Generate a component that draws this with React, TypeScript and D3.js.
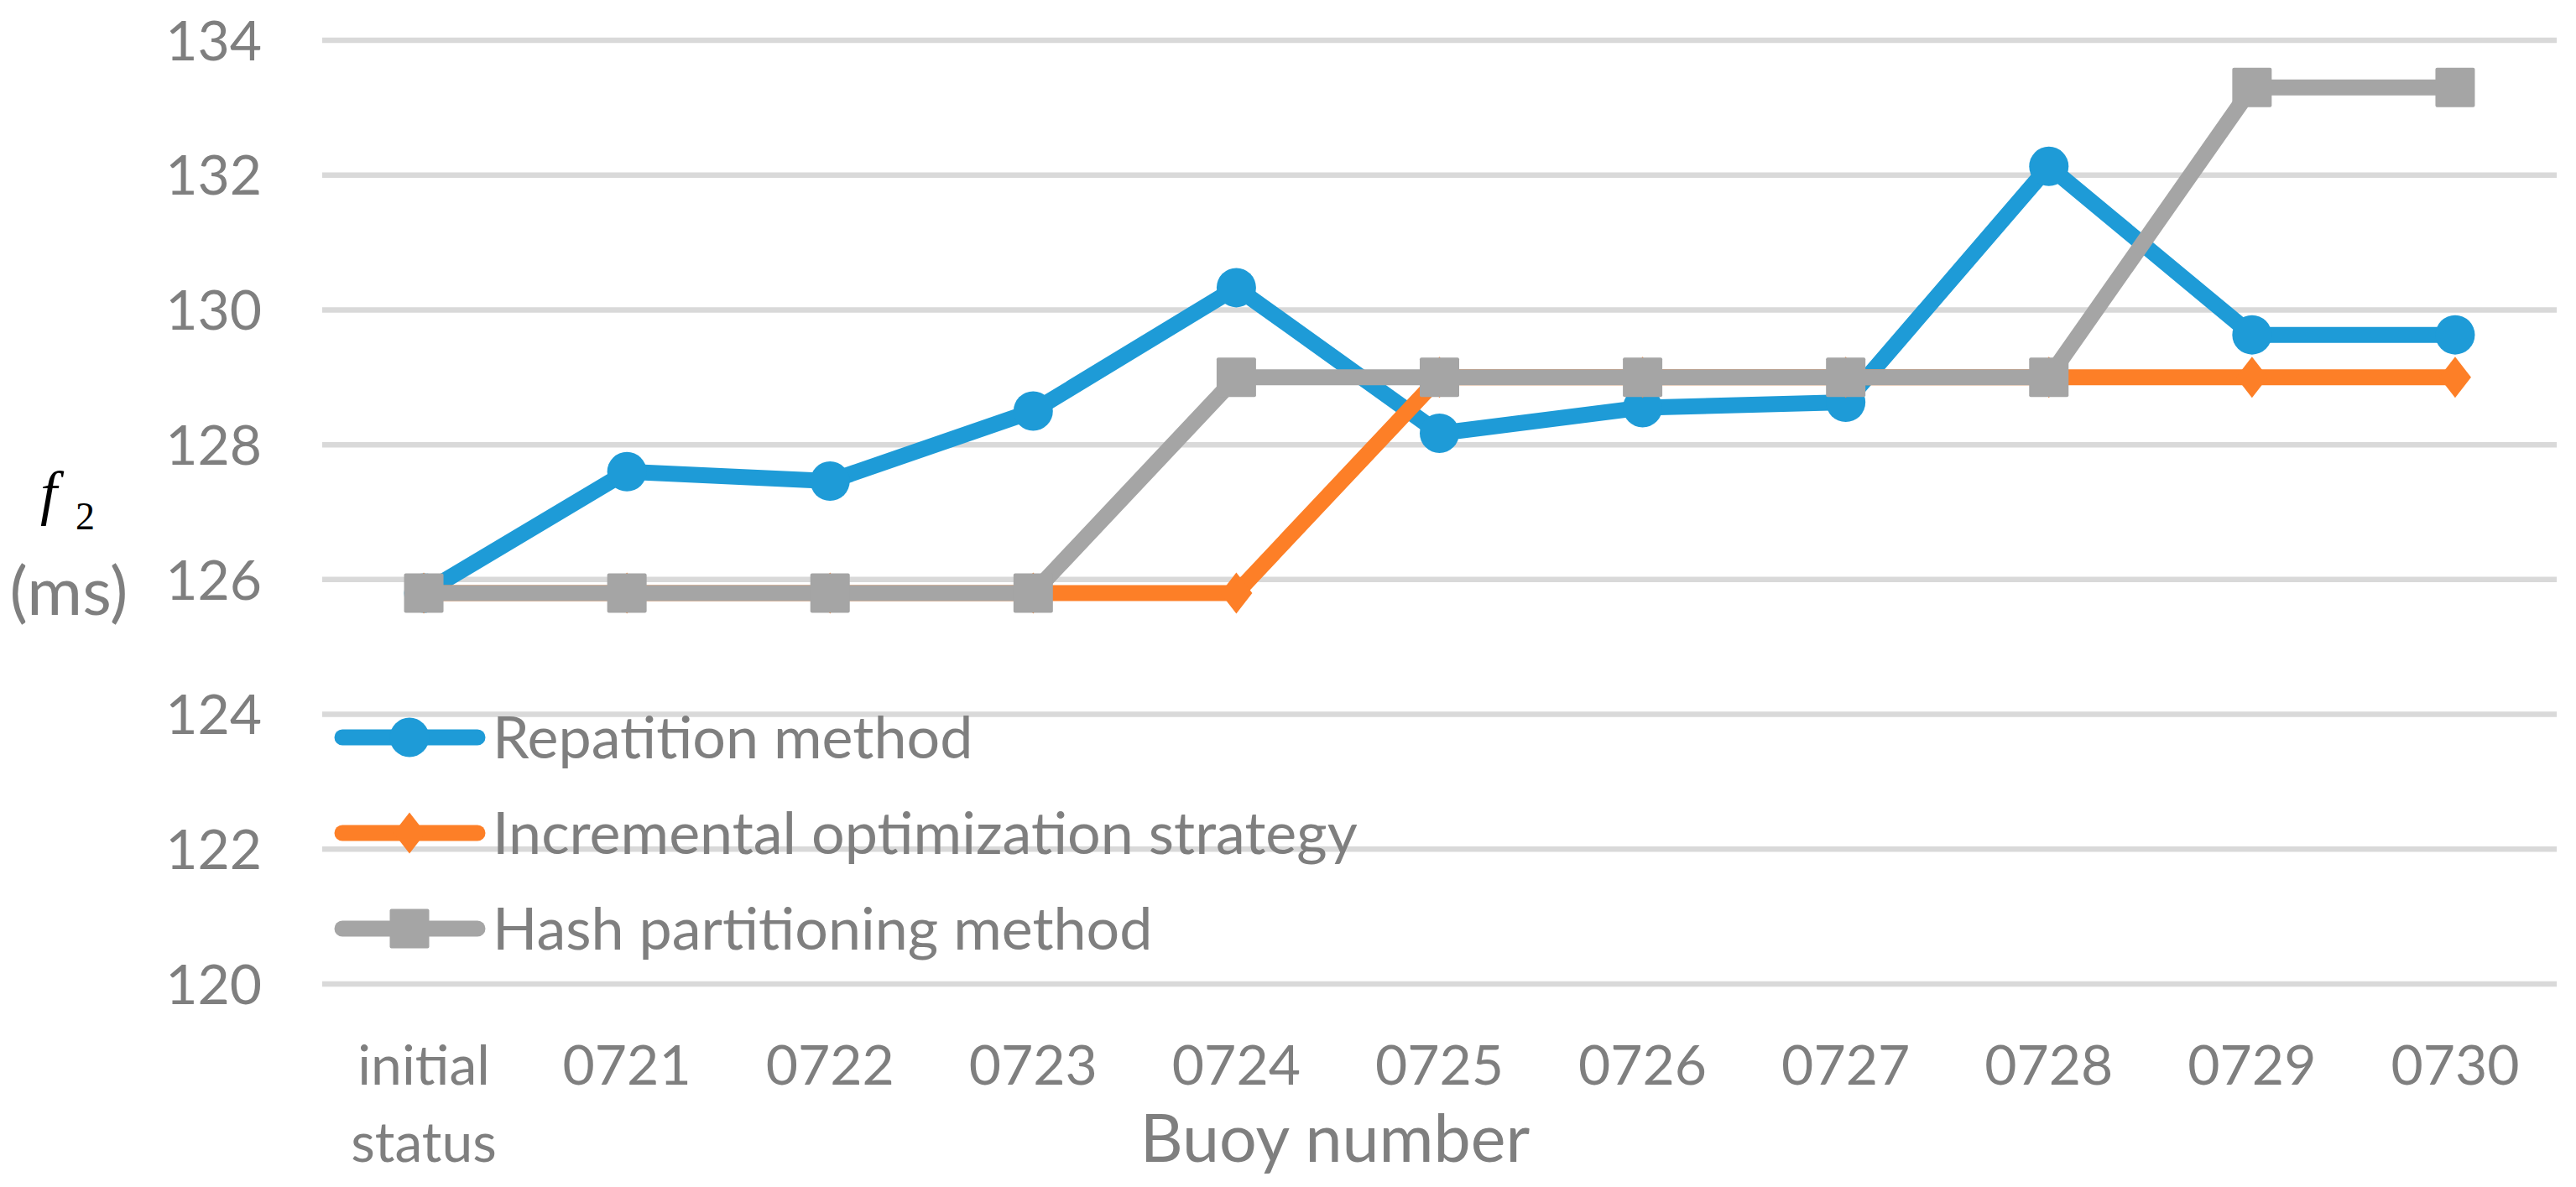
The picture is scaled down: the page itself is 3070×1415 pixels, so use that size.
import React from "react";
import * as d3 from "d3";

const categories = ["initial status", "0721", "0722", "0723", "0724", "0725", "0726", "0727", "0728", "0729", "0730"];
const repatition = [125.8, 127.6, 127.46, 128.5, 130.33, 128.17, 128.55, 128.63, 132.13, 129.63, 129.63];
const incremental = [125.8, 125.8, 125.8, 125.8, 125.8, 129.0, 129.0, 129.0, 129.0, 129.0, 129.0];
const hashPart = [125.8, 125.8, 125.8, 125.8, 129.0, 129.0, 129.0, 129.0, 129.0, 133.3, 133.3];
const yTicks = [120, 122, 124, 126, 128, 130, 132, 134];
const seriesNames = ["Repatition method", "Incremental optimization strategy", "Hash partitioning method"];
const seriesColors = ["#1E9BD7", "#FD7F27", "#A5A5A5"];
const seriesShapes = ["circle", "diamond", "square"];

const W = 3070;
const H = 1415;
const FONT = "Lato, 'Open Sans', sans-serif";
const TEXT = "#7F7F7F";

function Marker({ shape, cx, cy, color }: { shape: string; cx: number; cy: number; color: string }) {
  if (shape === "circle") return <circle cx={cx} cy={cy} r={23.5} fill={color} />;
  if (shape === "square") return <rect x={cx - 23.5} y={cy - 23.5} width={47} height={47} rx={2} fill={color} />;
  const hw = 19, hh = 24.5;
  return <path d={`M${cx},${cy - hh}L${cx + hw},${cy}L${cx},${cy + hh}L${cx - hw},${cy}Z`} fill={color} />;
}

export default function App() {
  const x = d3.scaleBand<string>().domain(categories).range([384, 3047]).padding(0);
  const xc = (c: string) => (x(c) as number) + x.bandwidth() / 2;
  const y = d3.scaleLinear().domain([120, 134]).range([1173, 48]);
  const data = [repatition, incremental, hashPart];
  const line = d3
    .line<number>()
    .x((_, i) => xc(categories[i]))
    .y((v) => y(v));

  const legendY = [879, 993, 1107];

  return (
    <svg width={W} height={H} style={{ position: "absolute", left: 0, top: 0, background: "#fff" }}>
      <rect x={0} y={0} width={W} height={H} fill="#fff" />
      {yTicks.map((t) => (
        <g key={t}>
          <line x1={384} x2={3047} y1={y(t)} y2={y(t)} stroke="#D9D9D9" strokeWidth={6.5} />
          <text x={312} y={y(t)} dy="0.36em" textAnchor="end" fontFamily={FONT} fontSize={66} fill={TEXT}>
            {t}
          </text>
        </g>
      ))}
      {categories.map((c) => {
        const parts = c.split(" ");
        return (
          <text key={c} x={xc(c)} y={1293} textAnchor="middle" fontFamily={FONT} fontSize={66} fill={TEXT}>
            {parts.map((p, i) => (
              <tspan key={i} x={xc(c)} dy={i === 0 ? 0 : 92}>
                {p}
              </tspan>
            ))}
          </text>
        );
      })}
      <text x={1591} y={1385} textAnchor="middle" fontFamily={FONT} fontSize={79} fill={TEXT}>
        Buoy number
      </text>
      <text x={82} y={733} textAnchor="middle" fontFamily={FONT} fontSize={80} fill={TEXT}>
        (ms)
      </text>
      <text x={48} y={612} fontFamily="'Liberation Serif', 'Times New Roman', serif" fontStyle="italic" fontSize={72} fill="#000">
        f
      </text>
      <text x={90} y={631} fontFamily="'Liberation Serif', 'Times New Roman', serif" fontSize={46} fill="#000">
        2
      </text>
      {data.map((vals, si) => (
        <g key={si}>
          <path
            d={line(vals) as string}
            fill="none"
            stroke={seriesColors[si]}
            strokeWidth={19}
            strokeLinejoin="round"
            strokeLinecap="round"
          />
          {vals.map((v, i) => (
            <Marker key={i} shape={seriesShapes[si]} cx={xc(categories[i])} cy={y(v)} color={seriesColors[si]} />
          ))}
        </g>
      ))}
      {seriesNames.map((name, si) => (
        <g key={name}>
          <line x1={408} x2={569} y1={legendY[si]} y2={legendY[si]} stroke={seriesColors[si]} strokeWidth={19} strokeLinecap="round" />
          <Marker shape={seriesShapes[si]} cx={488} cy={legendY[si]} color={seriesColors[si]} />
          <text x={587} y={legendY[si]} dy="0.36em" fontFamily={FONT} fontSize={70} fill={TEXT}>
            {name}
          </text>
        </g>
      ))}
    </svg>
  );
}
